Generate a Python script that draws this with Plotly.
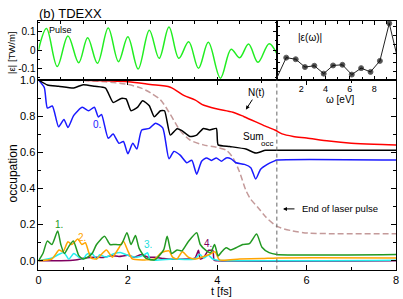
import plotly.graph_objects as go

# ---------------- data ----------------
PULSE_END = 5.333

pulse_t = [0.0, 0.18, 0.42, 0.66, 0.90, 1.10, 1.32, 1.56, 1.79, 2.00, 2.23, 2.48, 2.70, 2.92,
           3.14, 3.36, 3.58, 3.80, 4.07, 4.31, 4.50, 4.70, 4.91, 5.16, 5.333]
pulse_v = [0.0, 0.117, -0.09, 0.077, -0.069, 0.067, -0.072, 0.12, -0.063, 0.072, -0.103, 0.108,
           -0.045, 0.126, -0.045, 0.045, -0.099, 0.042, -0.153, 0.005, -0.042, 0.033, -0.067, 0.035, -0.02]

omega = [0.0, 0.77, 1.55, 2.31, 3.08, 3.85, 4.62, 5.39, 6.16, 6.93, 7.70, 8.47, 9.24, 10.0]
eps_omega = [0.036, 0.377, 0.35, 0.218, 0.24, 0.107, 0.245, 0.256, 0.091, 0.2, 0.136, 0.322, 0.955, 0.30]

red_t = [0, 1.0, 2.0, 2.5, 2.95, 3.25, 3.5, 3.7, 4.0, 4.35, 4.6, 4.85, 5.1, 5.3, 5.45, 5.7, 6.0,
         6.5, 7.0, 7.5, 8.0]
red_v = [1.0, 0.998, 0.99, 0.975, 0.96, 0.915, 0.89, 0.86, 0.84, 0.822, 0.797, 0.77, 0.742, 0.722,
         0.702, 0.688, 0.679, 0.662, 0.65, 0.644, 0.641]

sum_t = [0, 0.2, 0.45, 0.79, 1.0, 1.26, 1.5, 1.67, 1.85, 1.96, 2.07, 2.22, 2.33, 2.48, 2.59, 2.73,
         2.82, 2.95, 3.10, 3.21, 3.39, 3.54, 3.69, 3.83, 3.98, 4.02, 4.28, 4.64, 4.86, 5.08, 5.333, 8.0]
sum_v = [1.0, 0.972, 0.966, 0.956, 0.974, 0.965, 0.955, 0.876, 0.898, 0.895, 0.83, 0.85, 0.885,
         0.858, 0.797, 0.83, 0.83, 0.695, 0.73, 0.72, 0.687, 0.695, 0.732, 0.723, 0.732, 0.641,
         0.632, 0.618, 0.596, 0.611, 0.611, 0.611]

blue_t = [0, 0.13, 0.2, 0.31, 0.45, 0.57, 0.66, 0.79, 0.98, 1.12, 1.25, 1.34, 1.41, 1.56, 1.67,
          1.80, 1.90, 2.0, 2.11, 2.20, 2.31, 2.48, 2.62, 2.78, 2.92, 3.03, 3.17, 3.32, 3.43, 3.54,
          3.65, 3.76, 3.87, 3.98, 4.09, 4.20, 4.31, 4.42, 4.61, 4.75, 4.86, 4.97, 5.12, 5.27, 5.333, 8.0]
blue_v = [1.0, 0.958, 0.845, 0.856, 0.741, 0.782, 0.737, 0.804, 0.849, 0.83, 0.849, 0.795, 0.809,
          0.678, 0.701, 0.65, 0.66, 0.592, 0.65, 0.618, 0.723, 0.732, 0.761, 0.735, 0.564, 0.605,
          0.584, 0.542, 0.556, 0.479, 0.551, 0.569, 0.555, 0.569, 0.551, 0.569, 0.564, 0.542,
          0.533, 0.515, 0.452, 0.506, 0.533, 0.551, 0.557, 0.557]

brown_t = [0, 1.0, 1.5, 2.0, 2.3, 2.5, 2.73, 2.95, 3.17, 3.39, 3.69, 3.98, 4.2, 4.35, 4.5, 4.64,
           4.75, 4.9, 5.08, 5.34, 5.67, 6.04, 6.55, 8.0]
brown_v = [1.0, 0.997, 0.99, 0.975, 0.955, 0.93, 0.89, 0.81, 0.72, 0.668, 0.641, 0.628, 0.612,
           0.57, 0.49, 0.39, 0.34, 0.298, 0.244, 0.19, 0.166, 0.153, 0.15, 0.15]

green_t = [0, 0.1, 0.2, 0.3, 0.43, 0.5, 0.58, 0.68, 0.78, 0.9, 1.0, 1.1, 1.2, 1.3, 1.48, 1.6, 1.7,
           1.85, 1.98, 2.07, 2.17, 2.25, 2.4, 2.6, 2.8, 2.88, 2.98, 3.1, 3.21, 3.35, 3.54, 3.62,
           3.76, 3.85, 3.94, 4.02, 4.1, 4.2, 4.3, 4.42, 4.57, 4.72, 4.88, 5.0, 5.16, 5.333, 8.0]
green_v = [0, 0.04, 0.11, 0.09, 0.165, 0.09, 0.04, 0.08, 0.11, 0.03, 0.01, 0.02, 0.04, 0.09, 0.135,
           0.09, 0.09, 0.09, 0.155, 0.09, 0.14, 0.07, 0.015, 0.005, 0.06, 0.135, 0.04, 0.06, 0.055,
           0.105, 0.155, 0.09, 0.055, 0.045, 0.09, 0.027, 0.05, 0.072, 0.06, 0.072, 0.09, 0.095,
           0.148, 0.075, 0.045, 0.035, 0.035]

orange_t = [0, 0.3, 0.46, 0.55, 0.66, 0.75, 0.88, 0.97, 1.05, 1.12, 1.18, 1.3, 1.52, 1.65, 1.81,
            1.9, 2.0, 2.1, 2.4, 2.6, 2.75, 2.92, 3.0, 3.1, 3.22, 3.35, 3.5, 3.65, 3.83, 3.95, 4.05,
            4.5, 5.0, 5.333, 8.0]
orange_v = [0, 0.01, 0.06, 0.05, 0.105, 0.09, 0.12, 0.09, 0.1, 0.05, 0.015, 0.01, 0.06, 0.02,
            0.075, 0.108, 0.055, 0.01, 0.005, 0.01, 0.045, 0.055, 0.02, 0.01, 0.05, 0.02, 0.01,
            0.02, 0.036, 0.05, 0.005, 0.01, 0.012, 0.016, 0.016]

cyan_t = [0, 0.3, 0.46, 0.57, 0.68, 0.79, 0.9, 1.0, 1.08, 1.2, 1.3, 1.37, 1.5, 1.7, 1.85, 2.0,
          2.2, 2.35, 2.44, 2.5, 3.0, 3.5, 3.61, 3.7, 3.8, 3.9, 4.02, 8.0]
cyan_v = [0, 0.015, 0.036, 0.045, 0.009, 0.04, 0.02, 0.01, 0.036, 0.04, 0.01, 0.033, 0.02, 0.04,
          0.045, 0.03, 0.02, 0.03, 0.045, 0.005, 0.01, 0.01, 0.036, 0.015, 0.03, 0.01, 0.003, 0.003]

purple_t = [0, 0.5, 0.82, 1.04, 1.26, 1.45, 1.63, 1.8, 2.0, 2.15, 2.29, 2.45, 2.6, 2.8, 3.0, 3.3,
            3.5, 3.58, 3.62, 3.7, 3.8, 3.83, 3.9, 3.93, 4.0, 8.0]
purple_v = [0, 0.0, 0.004, 0.015, 0.02, 0.018, 0.028, 0.024, 0.03, 0.02, 0.034, 0.02, 0.02, 0.012,
            0.008, 0.01, 0.015, 0.058, 0.01, 0.02, 0.058, 0.058, 0.058, 0.003, 0.0, 0.0]

main_xticks = [0, 2, 4, 6, 8]
main_yticks = [0.0, 0.2, 0.4, 0.6, 0.8, 1.0]
pulse_yticks = [-0.1, 0, 0.1]
pulse_yticktext = ["-0.1", "0", "0.1"]
inset_xticks = [2, 4, 6, 8]

# ---------------- figure ----------------
W, H = 403, 299
FONT = "Liberation Sans, Arial, Helvetica, sans-serif"

def px_x(p):
    return p / W

def px_y(p):
    return (H - p) / H

fig = go.Figure()

def line(x, y, color, xa="x", ya="y", dash="solid", width=1.5, smooth=0.8):
    fig.add_trace(go.Scatter(x=x, y=y, mode="lines", xaxis=xa, yaxis=ya,
                             line=dict(color=color, width=width, dash=dash, shape="spline",
                                       smoothing=smooth),
                             showlegend=False, hoverinfo="skip"))

# main panel
line(brown_t, brown_v, "#c49a9a", dash="6px,3px")
line(purple_t, purple_v, "#800060", smooth=0.6)
line(cyan_t, cyan_v, "#22eeee", smooth=0.6)
line(orange_t, orange_v, "#ffa500", smooth=0.6)
line(green_t, green_v, "#229922", smooth=0.6)
line(blue_t, blue_v, "#1a1aff", smooth=0.6)
line(sum_t, sum_v, "#000000", smooth=0.5)
line(red_t, red_v, "#ff0000")

# pulse panel
line(pulse_t, pulse_v, "#22ee22", xa="x2", ya="y2", smooth=1.0)

# inset
fig.add_trace(go.Scatter(x=omega, y=eps_omega, mode="lines+markers", xaxis="x3", yaxis="y3",
                         line=dict(color="#222222", width=1),
                         marker=dict(color="black", size=[0] + [5] * 12 + [0]),
                         showlegend=False, hoverinfo="skip"))

ax_common = dict(showline=True, linecolor="black", linewidth=1, mirror="ticks",
                 ticks="inside", tickcolor="black", showgrid=False, zeroline=False,
                 tickfont=dict(family=FONT, size=11, color="black"))

main_top = 75.5
fig.update_layout(
    width=W, height=H, autosize=False,
    margin=dict(l=0, r=0, t=0, b=0),
    paper_bgcolor="white", plot_bgcolor="white",
    font=dict(family=FONT, color="black"),
    xaxis=dict(domain=[px_x(36), px_x(399)], anchor="y", range=[0, 8],
               tickvals=main_xticks, ticklen=5,
               minor=dict(dtick=1, ticklen=3, ticks="inside", tickcolor="black"),
               **ax_common),
    yaxis=dict(domain=[px_y(269), px_y(main_top)], anchor="x", range=[-0.0488, 1.0],
               tickvals=main_yticks, tickformat=".1f", ticklen=5,
               minor=dict(dtick=0.1, ticklen=3, ticks="inside", tickcolor="black"),
               **ax_common),
    xaxis2=dict(domain=[px_x(36), px_x(278)], anchor="y2", range=[0, PULSE_END],
                dtick=0.5, ticklen=3, showticklabels=False, **ax_common),
    yaxis2=dict(domain=[px_y(main_top), px_y(15)], anchor="x2", range=[-0.163, 0.160],
                tickvals=pulse_yticks, ticktext=pulse_yticktext, ticklen=4,
                minor=dict(dtick=0.05, ticklen=2, ticks="inside", tickcolor="black"),
                **{**ax_common, "tickfont": dict(family=FONT, size=10, color="black")}),
    xaxis3=dict(domain=[px_x(278), px_x(399)], anchor="y3", range=[0, 9.8],
                tickvals=inset_xticks, ticklen=4,
                minor=dict(dtick=1, ticklen=3, ticks="inside", tickcolor="black"),
                **{**ax_common, "tickfont": dict(family=FONT, size=9, color="black")}),
    yaxis3=dict(domain=[px_y(main_top), px_y(15)], anchor="x3", range=[0, 1],
                dtick=0.15, ticklen=3, showticklabels=False, **ax_common),
)

# end-of-pulse dashed line
fig.add_shape(type="line", xref="x", yref="y", x0=PULSE_END, x1=PULSE_END, y0=-0.0488, y1=1.0,
              line=dict(color="#666666", width=1, dash="4px,3px"))

def txt(text, x, y, size=10, color="black", xref="x", yref="y", xanchor="center", angle=0):
    fig.add_annotation(text=text, x=x, y=y, xref=xref, yref=yref, showarrow=False,
                       xanchor=xanchor, yanchor="middle", textangle=angle,
                       font=dict(family=FONT, size=size, color=color))

# titles
txt("(b) TDEXX", px_x(35), px_y(8), size=13, xref="paper", yref="paper", xanchor="left")
txt("occupation", px_x(10), px_y(171), size=12, xref="paper", yref="paper", angle=-90)
txt("|ε| [TW/m]", px_x(8), px_y(48), size=9.5, xref="paper", yref="paper", angle=-90)
txt("t [fs]", px_x(222), px_y(291), size=11, xref="paper", yref="paper")
txt("ω [eV]", px_x(343), px_y(95), size=10, xref="paper", yref="paper")

# labels in plots
txt("Pulse", 0.49, 0.112, size=9, xref="x2", yref="y2")
txt("|ε(ω)|", 2.76, 0.724, size=10, xref="x3", yref="y3")
txt("0.", 1.30, 0.755, size=10, color="#1a1aff")
txt("1.", 0.456, 0.199, size=10, color="#229922")
txt("2.", 0.985, 0.126, size=10, color="#ffa500")
txt("3.", 2.44, 0.09, size=10, color="#22dddd")
txt("4.", 3.80, 0.094, size=10, color="#800060")
txt("Sum", 4.53, 0.687, size=10, xanchor="left")
txt("occ", 4.94, 0.646, size=8, xanchor="left")
txt("End of laser pulse", 5.86, 0.287, size=9.5, xanchor="left")

fig.add_annotation(text="N(t)", x=4.64, y=0.836, xref="x", yref="y", showarrow=True,
                   ax=11, ay=-17, arrowhead=2, arrowsize=0.8, arrowwidth=1, arrowcolor="black",
                   font=dict(family=FONT, size=10, color="black"))
fig.add_annotation(text="", x=5.47, y=0.287, xref="x", yref="y", showarrow=True,
                   ax=13, ay=0, arrowhead=2, arrowsize=0.8, arrowwidth=1, arrowcolor="black")

fig.write_html("out.html", config={"displayModeBar": False},
               post_script="document.body.style.margin='0';document.body.style.padding='0';")
